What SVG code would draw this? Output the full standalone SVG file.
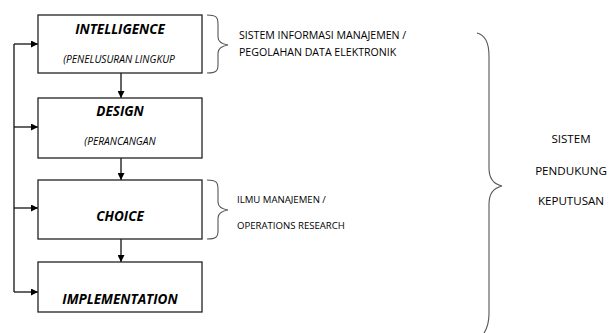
<svg xmlns="http://www.w3.org/2000/svg" width="614" height="333" viewBox="0 0 614 333">
  <defs>
    <marker id="arrow" viewBox="0 0 10 10" refX="10" refY="5" markerWidth="7" markerHeight="7" markerUnits="userSpaceOnUse" orient="auto">
      <path d="M0,0 L10,5 L0,10 z" fill="#000"/>
    </marker>
    <style>
      .box { fill: #fff; stroke: #222; stroke-width: 1.3; }
      .line { fill: none; stroke: #111; stroke-width: 1.3; }
      .brace { fill: none; stroke: #555; stroke-width: 1.1; }
      .title { font-family: "Open Sans", "Liberation Sans", sans-serif; font-weight: bold; font-style: italic; font-size: 13.5px; fill: #000; text-anchor: middle; }
      .sub { font-family: "Open Sans", "Liberation Sans", sans-serif; font-style: italic; font-size: 10.2px; fill: #000; text-anchor: middle; }
      .note { font-family: "Open Sans", "Liberation Sans", sans-serif; font-size: 10.6px; fill: #000; }
      .small { font-family: "Open Sans", "Liberation Sans", sans-serif; font-size: 9.6px; fill: #000; }
      .side { font-family: "Open Sans", "Liberation Sans", sans-serif; font-size: 11.6px; fill: #000; text-anchor: middle; }
    </style>
  </defs>

  <!-- connectors -->
  <g id="connectors">
    <path class="line" d="M14,44 L14,292"/>
    <path class="line" d="M14,44 L38,44" marker-end="url(#arrow)"/>
    <path class="line" d="M14,127 L38,127" marker-end="url(#arrow)"/>
    <path class="line" d="M14,208 L38,208" marker-end="url(#arrow)"/>
    <path class="line" d="M14,292 L38,292" marker-end="url(#arrow)"/>
    <path class="line" d="M121,73 L121,98" marker-end="url(#arrow)"/>
    <path class="line" d="M121,158 L121,180" marker-end="url(#arrow)"/>
    <path class="line" d="M121,239 L121,262" marker-end="url(#arrow)"/>
  </g>

  <g id="intelligence">
    <rect class="box" x="38" y="15" width="164" height="58"/>
    <text class="title" x="120" y="34">INTELLIGENCE</text>
    <text class="sub" x="119" y="63">(PENELUSURAN LINGKUP</text>
  </g>

  <g id="design">
    <rect class="box" x="38" y="98" width="164" height="60"/>
    <text class="title" x="120" y="116">DESIGN</text>
    <text class="sub" x="120" y="145">(PERANCANGAN</text>
  </g>

  <g id="choice">
    <rect class="box" x="38" y="180" width="164" height="59"/>
    <text class="title" x="120" y="221">CHOICE</text>
  </g>

  <g id="implementation">
    <rect class="box" x="38" y="262" width="164" height="50"/>
    <text class="title" x="120" y="304">IMPLEMENTATION</text>
  </g>

  <!-- bracket notes -->
  <g id="sim-note">
    <path class="brace" d="M207,15 C216,15 218,17 218,24 L218,37 C218,42 222,44 228,45 C222,46 218,48 218,53 L218,65 C218,71 216,73 207,73"/>
    <text class="note" x="239" y="39">SISTEM INFORMASI MANAJEMEN /</text>
    <text class="note" x="239" y="56">PEGOLAHAN DATA ELEKTRONIK</text>
  </g>

  <g id="or-note">
    <path class="brace" d="M207,180 C216,180 218,182 218,189 L218,202 C218,207 222,209 228,210 C222,211 218,213 218,218 L218,231 C218,237 216,239 207,239"/>
    <text class="small" x="237" y="203">ILMU MANAJEMEN /</text>
    <text class="small" x="237" y="229">OPERATIONS RESEARCH</text>
  </g>

  <g id="dss-note">
    <path class="brace" d="M477,33 C485,35 489,42 489,56 L489,168 C489,178 493,184 502,186 C493,188 489,194 489,204 L489,314 C489,326 485,334 478,340"/>
    <text class="side" x="571" y="143">SISTEM</text>
    <text class="side" x="571" y="175">PENDUKUNG</text>
    <text class="side" x="571" y="205">KEPUTUSAN</text>
  </g>
</svg>
